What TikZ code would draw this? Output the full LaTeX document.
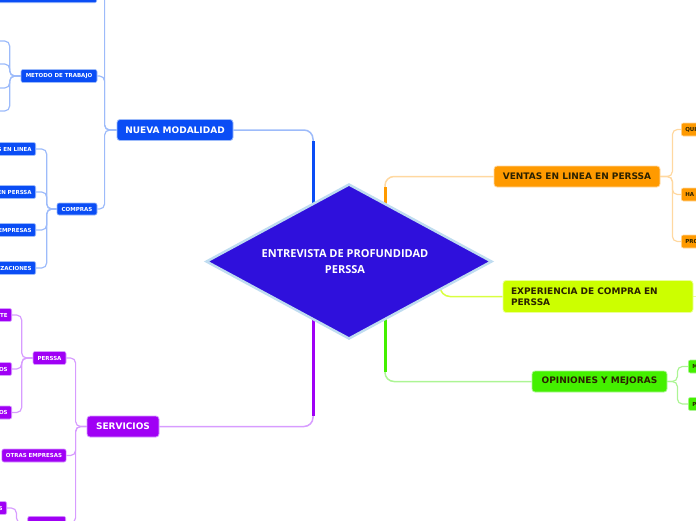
\documentclass[tikz,border=0pt]{standalone}
\usepackage{fontspec}
\newfontfamily\brfont{DejaVu Sans}
\newfontfamily\cfont{Open Sans}
\usetikzlibrary{shapes.geometric,calc,backgrounds}
\definecolor{cBlue}{HTML}{0A4DF5}
\definecolor{cBlueL}{HTML}{9DBBFA}
\definecolor{cPur}{HTML}{A000F5}
\definecolor{cPurL}{HTML}{D79CFF}
\definecolor{cOra}{HTML}{FF9A00}
\definecolor{cOraL}{HTML}{FFD8A0}
\definecolor{cYel}{HTML}{CCFF00}
\definecolor{cYelL}{HTML}{EBFF99}
\definecolor{cGrn}{HTML}{44F000}
\definecolor{cGrnL}{HTML}{ACF594}
\definecolor{cDia}{HTML}{2F10DC}
\definecolor{cDiaB}{HTML}{BFDCF0}
\definecolor{cDark}{HTML}{2A2100}
\tikzset{
  mainbox/.style={rounded corners=3pt, inner sep=0pt, minimum height=21pt, line width=0.8pt,
    font=\brfont\bfseries\fontsize{9}{11}\selectfont},
  subbox/.style={rounded corners=2pt, inner xsep=4pt, inner ysep=0pt, minimum height=13pt, line width=0.6pt,
    font=\brfont\bfseries\fontsize{5.5}{6}\selectfont},
  cutl/.style={anchor=east, text width=60pt, align=right},
  cutr/.style={anchor=west, text width=40pt, align=left},
  link/.style={line width=1.2pt, rounded corners=5pt},
  trunk/.style={line width=3pt},
}
\begin{document}
\begin{tikzpicture}[x=1pt,y=-1pt]
\useasboundingbox (0,0) rectangle (696,520);
\clip (0,0) rectangle (696,520);

% centre
\node[diamond, aspect=1.834, fill=cDia, draw=cDiaB, line width=2.5pt, minimum width=286pt, minimum height=155pt,
  inner sep=0pt] (c) at (349,261.5) {};
\node[text=white, align=center, font=\cfont\bfseries\fontsize{11}{16}\selectfont] (ct) at (345,262)
  {ENTREVISTA DE PROFUNDIDAD\\PERSSA};

% main branches
\node[mainbox, fill=cBlue, draw=cBlueL, text=white, minimum width=116pt] (nm) at (175,130) {NUEVA MODALIDAD};
\node[mainbox, fill=cPur, draw=cPurL, text=white, minimum width=72pt] (sv) at (123,426.5) {SERVICIOS};
\node[mainbox, fill=cOra, draw=cOraL, text=cDark, minimum width=166pt] (ve) at (577,176.5) {VENTAS EN LINEA EN PERSSA};
\node[mainbox, fill=cYel, draw=cYelL, text=cDark, minimum width=190pt, minimum height=32pt, text width=174pt, align=left] (ex) at (598,296.5) {EXPERIENCIA DE COMPRA EN\\PERSSA};
\node[mainbox, fill=cGrn, draw=cGrnL, text=cDark, minimum width=135pt] (op) at (599.5,381.5) {OPINIONES Y MEJORAS};

% blue sub-branches
\node[subbox, fill=cBlue, draw=cBlueL, anchor=south east, minimum width=110pt, minimum height=26pt] (top) at (97,3) {};
\node[subbox, fill=cBlue, draw=cBlueL, text=white, minimum width=76pt] (mt) at (59,76) {METODO DE TRABAJO};
\node[subbox, fill=cBlue, draw=cBlueL, text=white, minimum width=40pt, minimum height=12pt] (co) at (77,209) {COMPRAS};
\node[subbox, cutl, fill=cBlue, draw=cBlueL, text=white] (c1) at (36,149) {S EN LINEA};
\node[subbox, cutl, fill=cBlue, draw=cBlueL, text=white] (c2) at (36,192) {EN PERSSA};
\node[subbox, cutl, fill=cBlue, draw=cBlueL, text=white] (c3) at (36,230) {EMPRESAS};
\node[subbox, cutl, fill=cBlue, draw=cBlueL, text=white] (c4) at (36,268) {ZACIONES};
\coordinate (ma) at (-3,41);
\coordinate (mb) at (-3,64);
\coordinate (mc) at (-3,88);
\coordinate (md) at (-3,111);

% purple sub-branches
\node[subbox, fill=cPur, draw=cPurL, text=white, minimum width=33pt] (pe) at (49.5,358) {PERSSA};
\node[subbox, fill=cPur, draw=cPurL, text=white, minimum width=64pt] (oe) at (34,455.5) {OTRAS EMPRESAS};
\node[subbox, fill=cPur, draw=cPurL, anchor=north east, minimum width=38pt] (b3) at (66,516) {};
\node[subbox, cutl, fill=cPur, draw=cPurL, text=white] (p1) at (12,315) {TE};
\node[subbox, cutl, fill=cPur, draw=cPurL, text=white] (p2) at (12,369) {OS};
\node[subbox, cutl, fill=cPur, draw=cPurL, text=white] (p3) at (12,412.5) {OS};
\node[subbox, cutl, fill=cPur, draw=cPurL, text=white] (s1) at (7,508) {S};

% orange sub-branches
\node[subbox, cutr, fill=cOra, draw=cOraL, text=cDark] (q1) at (681,129.5) {QUI};
\node[subbox, cutr, fill=cOra, draw=cOraL, text=cDark] (h1) at (681,194.5) {HA};
\node[subbox, cutr, fill=cOra, draw=cOraL, text=cDark] (r1) at (681,241.5) {PRO};

% green sub-branches
\node[subbox, cutr, fill=cGrn, draw=cGrnL, text=cDark] (m1) at (688,366.5) {M};
\node[subbox, cutr, fill=cGrn, draw=cGrnL, text=cDark] (r2) at (688,404) {P};

\coordinate (exr) at (700,296.5);
\coordinate (jl) at (313,262);
\coordinate (jr) at (385,262);
\coordinate (jx) at (440,262);

\begin{scope}[on background layer]
  % trunks
  \draw[link, rounded corners=9pt, cBlueL, line width=1.5pt] (nm.east) -| (jl);
  \draw[trunk, cBlue] (jl) -- ($(nm.east -| jl)+(0,11)$);
  \draw[link, rounded corners=9pt, cPurL, line width=1.5pt] (sv.east) -| (jl);
  \draw[trunk, cPur] (jl) -- ($(sv.east -| jl)+(0,-11)$);
  \draw[link, rounded corners=9pt, cOraL, line width=1.5pt] (ve.west) -| (jr);
  \draw[trunk, cOra] (jr) -- ($(ve.west -| jr)+(0,10)$);
  \draw[link, rounded corners=9pt, cGrnL, line width=1.5pt] (op.west) -| (jr);
  \draw[trunk, cGrn] (jr) -- ($(op.west -| jr)+(0,-10)$);
  \draw[link, rounded corners=10pt, cYel!75!white, line width=1.5pt] (ex.west) -| (jx);
  \draw[link, cYelL] (ex.east) -- (exr);

  % blue
  \foreach \t in {top,mt,co} \draw[link, cBlueL] (nm.west) -- ++(-12,0) |- (\t.east);
  \foreach \t in {ma,mb,mc,md} \draw[link, cBlueL] (mt.west) -- ++(-11,0) |- (\t);
  \foreach \t in {c1,c2,c3,c4} \draw[link, cBlueL] (co.west) -- ++(-10,0) |- (\t.east);
  % purple
  \foreach \t in {pe,oe,b3} \draw[link, cPurL] (sv.west) -- ++(-11,0) |- (\t.east);
  \foreach \t in {p1,p2,p3} \draw[link, cPurL] (pe.west) -- ++(-11,0) |- (\t.east);
  \draw[link, cPurL] (b3.west) -- ++(-11,0) |- (s1.east);
  % orange
  \foreach \t in {q1,h1,r1} \draw[link, cOraL] (ve.east) -- ++(12,0) |- (\t.west);
  % green
  \foreach \t in {m1,r2} \draw[link, cGrnL] (op.east) -- ++(10,0) |- (\t.west);
\end{scope}
\end{tikzpicture}
\end{document}
